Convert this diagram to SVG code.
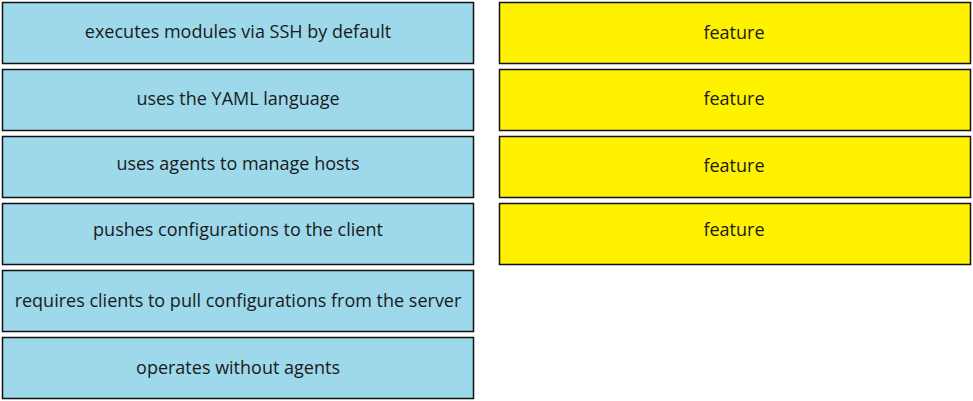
<svg xmlns="http://www.w3.org/2000/svg" width="973" height="401" viewBox="0 0 973 401">
<style>
.b{fill:#9dd9ea;stroke:#111;stroke-width:1.5}
.y{fill:#fff200;stroke:#111;stroke-width:1.5}
text{font-family:"Open Sans","Noto Sans",sans-serif;font-size:18px;fill:#1a1a1a;text-anchor:middle}
</style>
<rect width="973" height="401" fill="#fff"/>
<g id="n1"><rect class="b" x="2.5" y="2.5" width="471" height="61"/><text x="238" y="38">executes modules via SSH by default</text></g>
<g id="n2"><rect class="b" x="2.5" y="69.5" width="471" height="61"/><text x="238" y="105">uses the YAML language</text></g>
<g id="n3"><rect class="b" x="2.5" y="136.5" width="471" height="61"/><text x="238" y="170">uses agents to manage hosts</text></g>
<g id="n4"><rect class="b" x="2.5" y="203.5" width="471" height="61"/><text x="238" y="236">pushes configurations to the client</text></g>
<g id="n5"><rect class="b" x="2.5" y="270.5" width="471" height="61"/><text x="238" y="307">requires clients to pull configurations from the server</text></g>
<g id="n6"><rect class="b" x="2.5" y="337.5" width="471" height="61"/><text x="238" y="374">operates without agents</text></g>
<g id="f1"><rect class="y" x="499.5" y="2.5" width="471" height="61"/><text x="734" y="39">feature</text></g>
<g id="f2"><rect class="y" x="499.5" y="69.5" width="471" height="61"/><text x="734" y="105">feature</text></g>
<g id="f3"><rect class="y" x="499.5" y="136.5" width="471" height="61"/><text x="734" y="172">feature</text></g>
<g id="f4"><rect class="y" x="499.5" y="203.5" width="471" height="61"/><text x="734" y="236">feature</text></g>
<g id="connectors"></g>
</svg>
